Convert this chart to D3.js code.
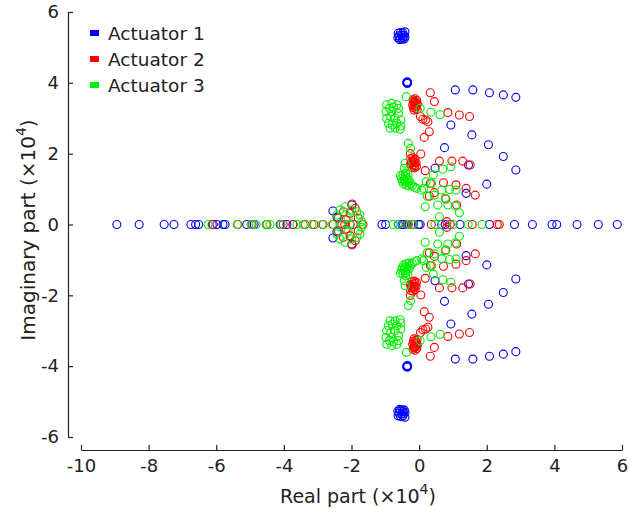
<!DOCTYPE html>
<html><head><meta charset="utf-8">
<script src="https://cdn.jsdelivr.net/npm/d3@7"></script>
<style>
html,body{margin:0;padding:0;background:#fff;}
svg text{font-family:"DejaVu Sans","Liberation Sans",sans-serif;fill:#222;}
</style></head>
<body><svg id="c" width="629" height="514"></svg>
<script>
// ---------- data (units of 10^4) ----------
const seriesNames = ["Actuator 1", "Actuator 2", "Actuator 3"];
const seriesColors = ["#0000ff", "#ff0000", "#00f000"];
const xTicks = [-10, -8, -6, -4, -2, 0, 2, 4, 6];
const yTicks = [-6, -4, -2, 0, 2, 4, 6];

// purely real eigenvalues
const act1Real = [-8.94,-8.28,-7.54,-7.25,-6.75,-6.61,-6.52,-6.09,-5.98,-5.80,-5.74,-5.10,-4.88,-4.11,-3.91,-3.73,
  -2.29,-2.04,-1.10,-0.99,-0.61,-0.51,-0.46,-0.36,-0.32,-0.17,-0.02,0.03,0.67,0.77,1.21,2.08,2.82,3.35,3.93,4.07,4.67,5.30,5.86];
const act2Real = [-6.12,-5.36,-4.94,-4.50,-4.02,-3.73,-3.37,-3.11,-2.84,-2.54,-2.20,-1.95,-1.66,-0.36,-0.21,0.36,0.92,1.57,2.31,2.37];
const act3Real = [-6.24,-5.38,-4.97,-4.82,-4.53,-4.41,-4.08,-3.61,-3.43,-3.17,-2.87,-2.57,-2.30,-2.05,-1.69,-0.77,-0.62,-0.33,-0.18,0.47,1.01,1.45,1.86];

// complex eigenvalues, upper half-plane [real, imag]; conjugates are mirrored
const act1Complex = [
  [-0.62,5.40],[-0.55,5.42],[-0.48,5.41],[-0.42,5.44],[-0.60,5.33],[-0.52,5.35],[-0.45,5.34],[-0.63,5.27],
  [-0.56,5.26],[-0.48,5.28],[-0.42,5.30],[-0.58,5.22],[-0.50,5.23],[-0.44,5.24],
  [-0.35,4.03],[-0.34,4.00],[-0.37,4.01],[-0.35,3.98],
  [1.07,3.80],[1.59,3.80],[2.08,3.72],[2.49,3.66],[2.86,3.59],
  [0.94,2.81],[1.56,2.53],[2.05,2.25],[2.49,1.92],[2.86,1.54],
  [0.75,2.17],[0.47,1.59],[1.46,1.68],[2.00,1.14],[1.39,0.88],
  [-2.55,0.38],[-1.99,0.55],[-2.43,0.21]
];
const act2Complex = [
  [-0.18,3.52],[-0.12,3.55],[-0.07,3.50],[-0.16,3.45],[-0.10,3.44],[-0.05,3.40],[-0.19,3.38],[-0.13,3.36],
  [-0.08,3.33],[-0.17,3.30],[-0.11,3.28],[-0.06,3.25],[-0.15,3.23],[-0.09,3.42],[-0.14,3.48],
  [0.33,3.72],[0.45,3.47],[0.85,3.16],[1.19,3.09],[1.49,3.05],[0.26,2.90],[0.11,2.97],[0.04,3.05],[0.19,2.95],
  [0.30,2.62],[0.15,2.46],[0.05,1.99],[-0.26,2.00],[0.60,1.79],[0.97,1.79],[1.29,1.79],[1.51,1.68],[0.18,1.52],
  [0.72,1.18],[1.09,1.12],[1.39,1.02],[1.66,0.83],[0.45,0.90],[0.30,0.80],[1.11,0.55],[0.33,1.16],[0.79,0.72],[0.82,0.08],
  [-0.25,1.86],[-0.18,1.88],[-0.12,1.84],[-0.22,1.78],[-0.15,1.76],[-0.09,1.74],[-0.26,1.70],[-0.19,1.68],
  [-0.13,1.66],[-0.21,1.62],[-0.14,1.60],[-0.08,1.64],[-0.17,1.81],[-0.23,1.74],
  [-2.24,0.36],[-2.04,0.32],[-1.89,0.46],[-1.80,0.18],[-2.39,0.18],[-1.98,0.58],[-2.16,0.13]
];
const act3Complex = [
  [-0.96,3.38],[-0.81,3.42],[-0.66,3.38],[-0.98,3.19],[-0.81,3.19],[-0.61,3.14],[-0.96,3.00],[-0.84,3.05],
  [-0.71,3.00],[-0.54,2.95],[-0.91,2.86],[-0.79,2.81],[-0.66,2.86],[-0.54,2.78],[-0.86,2.72],[-0.71,2.72],
  [-0.56,2.69],[-0.76,3.31],[-0.61,3.28],[-0.88,3.28],
  [-0.38,3.61],[0.03,3.28],[0.35,3.17],[0.62,3.10],
  [-0.32,2.29],[-0.25,2.15],[-0.41,1.73],[-0.44,1.59],[-0.07,1.02],[0.08,0.97],[0.18,0.50],[0.45,0.83],
  [0.70,1.56],[0.94,1.63],[0.42,1.40],[0.21,1.21],[0.37,1.16],[0.13,1.02],[0.67,0.97],[0.90,0.99],[1.09,0.97],
  [0.77,0.74],[0.24,0.80],[0.55,0.55],[0.85,0.55],[1.07,0.52],[1.19,0.33],[0.60,0.22],
  [-0.55,1.38],[-0.48,1.40],[-0.40,1.36],[-0.52,1.30],[-0.44,1.28],[-0.36,1.30],[-0.30,1.25],[-0.50,1.22],
  [-0.42,1.20],[-0.34,1.18],[-0.26,1.16],[-0.46,1.14],[-0.38,1.11],[-0.30,1.09],[-0.20,1.10],[-0.14,1.05],
  [-0.40,1.45],[-0.33,1.42],
  [-2.34,0.41],[-2.19,0.50],[-1.99,0.41],[-1.84,0.36],[-1.75,0.27],[-1.70,0.08],[-2.43,0.27],[-2.10,0.18]
];

// ---------- build ----------
function points(real, cplx){
  const p = real.map(r => [r, 0]);
  cplx.forEach(([re, im]) => { p.push([re, im]); p.push([re, -im]); });
  return p;
}
const series = [
  points(act1Real, act1Complex),
  points(act2Real, act2Complex),
  points(act3Real, act3Complex)
];

const svg = d3.select("#c");
const x = d3.scaleLinear().domain([-10, 6]).range([81, 622]);
const y = d3.scaleLinear().domain([-6, 6]).range([437, 12]);

// x axis (offset below plot)
const gx = svg.append("g").attr("transform", "translate(0,450)")
  .call(d3.axisBottom(x).tickValues(xTicks).tickFormat(d => String(d)).tickSize(-5).tickPadding(9).tickSizeOuter(0));
// y axis (offset left)
const gy = svg.append("g").attr("transform", "translate(68,0)")
  .call(d3.axisLeft(y).tickValues(yTicks).tickFormat(d => String(d)).tickSize(-5).tickPadding(9).tickSizeOuter(0));
[gx, gy].forEach(g => {
  g.selectAll("path.domain").attr("stroke", "#222").attr("stroke-width", 1.2);
  g.selectAll(".tick line").attr("stroke", "#222").attr("stroke-width", 1.2);
  g.selectAll(".tick text").style("font-size", "18px").attr("fill", "#222");
});

// points
series.forEach((pts, i) => {
  svg.append("g").selectAll("circle").data(pts).join("circle")
    .attr("cx", d => x(d[0])).attr("cy", d => y(d[1])).attr("r", 4)
    .attr("fill", "none").attr("stroke", seriesColors[i]).attr("stroke-width", 1.1);
});

// legend
const lg = svg.append("g");
seriesNames.forEach((n, i) => {
  const cy = 33 + i * 26;
  lg.append("rect").attr("x", 90).attr("y", cy - 3).attr("width", 9).attr("height", 6).attr("fill", seriesColors[i]);
  lg.append("text").attr("x", 108).attr("y", cy + 7).style("font-size", "18.5px").text(n);
});

// axis labels
const xl = svg.append("text").attr("x", 358).attr("y", 503).attr("text-anchor", "middle").style("font-size", "19px");
xl.append("tspan").text("Real part (×10");
xl.append("tspan").attr("dy", -9).style("font-size", "14px").text("4");
xl.append("tspan").attr("dy", 9).text(")");

const yl = svg.append("text").attr("transform", "translate(35,230) rotate(-90)").attr("text-anchor", "middle").style("font-size", "20px");
yl.append("tspan").text("Imaginary part (×10");
yl.append("tspan").attr("dy", -9).style("font-size", "14px").text("4");
yl.append("tspan").attr("dy", 9).text(")");
</script></body></html>
